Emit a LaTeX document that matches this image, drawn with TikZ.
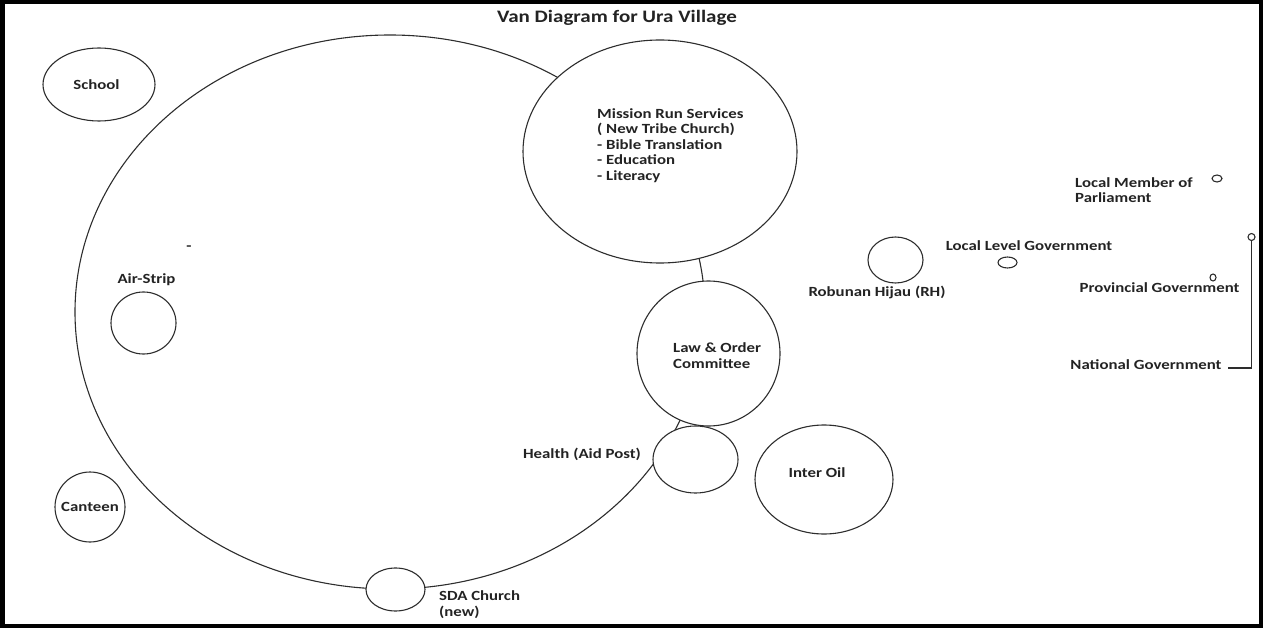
\documentclass[tikz,border=0pt]{standalone}
\usepackage{fontspec}
\setmainfont{Carlito}[FakeStretch=1.2]
\usepackage{tikz}
\usetikzlibrary{shapes.geometric}
\definecolor{inkline}{RGB}{45,45,45}
\definecolor{inktext}{RGB}{35,35,35}

\begin{document}
\begin{tikzpicture}[x=1pt,y=-1pt,
  ring/.style={ellipse,draw=inkline,line width=1.1pt,fill=white,inner sep=0pt},
  lbl/.style={font=\fontsize{14}{15.6}\selectfont\bfseries,text=inktext,inner sep=0pt}]

\useasboundingbox (0,0) rectangle (1263,628);
% frame
\draw[line width=4.5pt] (2.25,2.25) rectangle (1260.75,625.75);

% village ring first, the rest is drawn over it
% {name, x, y, width, height}
\foreach \nm/\x/\y/\w/\h in {
   village/390/312/630/554,
   mission/660/151.5/274/223,
   laworder/708.5/353.5/143/145,
   health/695.5/459.5/85/67,
   interoil/824/479.5/138/109,
   sda/395.5/589.5/59/43,
   canteen/90/507/70/70,
   airstrip/143.5/323/65/62,
   school/99/84.5/112/73,
   robunan/895.5/260/55/46,
   llgdot/1007.5/262.5/19/11,
   lmpdot/1217/178.5/10/7,
   provdot/1213/277.5/6/7,
   natdot/1251.5/237/7/7}{
  \node[ring,minimum width=\w pt,minimum height=\h pt] (\nm) at (\x,\y) {};
}

% title
\node[lbl,font=\fontsize{17.5}{20}\selectfont\bfseries] (title) at (617,18)
  {Van Diagram for Ura Village};

% labels: {name, x, y, text}
\foreach \nm/\x/\y/\txt in {
   schoollbl/96.5/85/{School},
   healthlbl/582/454/{Health (Aid Post)},
   interlbl/817/473/{Inter Oil},
   robunanlbl/877/292/{Robunan Hijau (RH)},
   llglbl/1029/246/{Local Level Government},
   provlbl/1159.5/288/{Provincial Government},
   natgov/1146/365/{National Government},
   airlbl/146.5/280/{Air-Strip},
   dash/189/248/{-},
   canteenlbl/90/507/{Canteen}}{
  \node[lbl] (\nm) at (\x,\y) {\txt};
}

% left-aligned blocks
\node[lbl,anchor=west,align=left] (missionlbl) at (597,145.5)
  {Mission Run Services\\( New Tribe Church)\\- Bible Translation\\- Education\\- Literacy};
\node[lbl,anchor=west,align=left] (lawlbl) at (673,355.5)
  {Law \& Order\\Committee};
\node[lbl,anchor=west,align=left] (lmplbl) at (1075,190)
  {Local Member of\\Parliament};
\node[lbl,anchor=west,align=left] (sdalbl) at (439,604.5)
  {SDA Church\\(new)};

% national government bracket
\coordinate (natfoot) at (1228,368);
\draw[inkline,line width=1.1pt] (natfoot) -| (natdot.south);

\end{tikzpicture}
\end{document}
